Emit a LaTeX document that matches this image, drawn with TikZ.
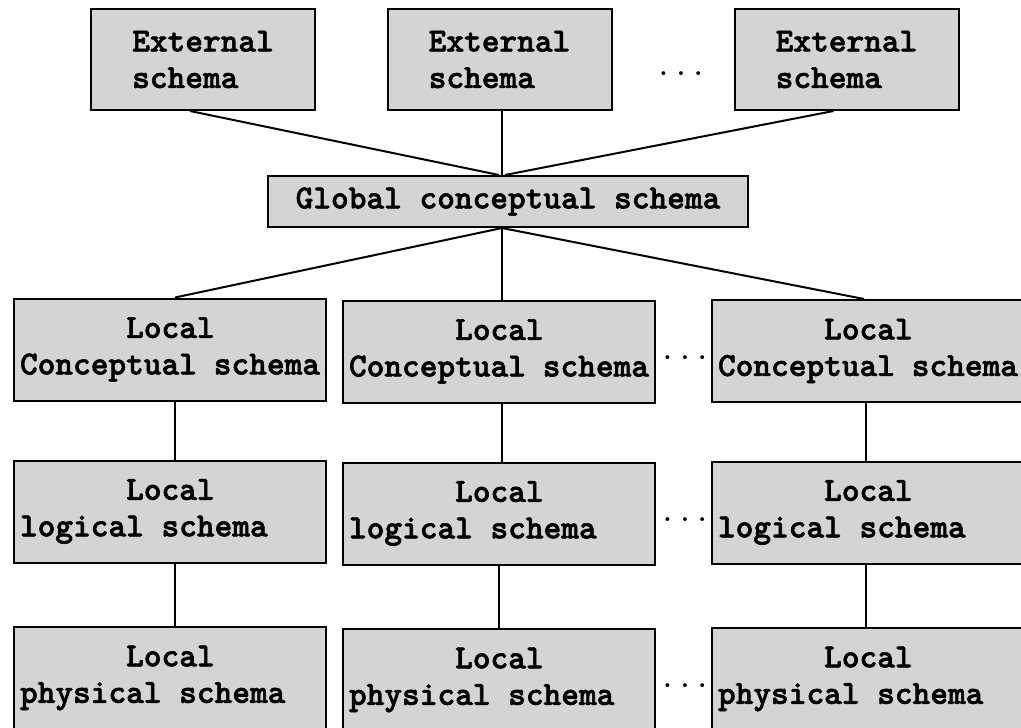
\documentclass[tikz,border=0pt]{standalone}
\usepackage{fontspec}
\newfontfamily\schemafont{lmmonolt10-bold.otf}[FakeBold=1.8]
\usetikzlibrary{calc}
\definecolor{boxgray}{RGB}{212,212,212}
\begin{document}
\begin{tikzpicture}[x=1pt,y=-1pt,
  schema/.style={draw=black, line width=2pt, fill=boxgray,
    font=\schemafont\fontsize{33.7}{36.5}\selectfont,
    inner sep=0pt, align=flush left},
  extbox/.style={schema, minimum width=224pt, minimum height=101pt},
  globbox/.style={schema, align=center, minimum width=480pt, minimum height=51pt},
  localbox/.style={schema, text width=300pt, inner xsep=6pt,
    minimum width=312pt, minimum height=102pt},
  link/.style={line width=2pt},
  more/.style={font=\ttfamily\fontsize{33.7}{36.5}\selectfont, inner sep=0pt}]
\useasboundingbox (0,0) rectangle (1021,728);
\clip (0,0) rectangle (1021,728);

% external schemas
\node[extbox] (e1) at (203,59.5) {External\\schema};
\node[extbox] (e2) at (499.5,59.5) {External\\schema};
\node[extbox] (e3) at (846.5,59.5) {External\\schema};
\node[more] (d0) at (681,74) {...};

% global conceptual schema
\node[globbox] (g) at (508,201.5) {Global conceptual schema};

% local schemas, one column per site
\node[localbox] (c1) at (170,349.5) {\phantom{xxxxxx}Local\\Conceptual schema};
\node[localbox] (c2) at (499,351.5) {\phantom{xxxxxx}Local\\Conceptual schema};
\node[localbox] (c3) at (868,351) {\phantom{xxxxxx}Local\\Conceptual schema};

\node[localbox] (l1) at (170,511.5) {\phantom{xxxxxx}Local\\logical schema};
\node[localbox] (l2) at (499,513.5) {\phantom{xxxxxx}Local\\logical schema};
\node[localbox] (l3) at (868,512.5) {\phantom{xxxxxx}Local\\logical schema};

\node[localbox] (p1) at (170,678) {\phantom{xxxxxx}Local\\physical schema};
\node[localbox] (p2) at (499,680) {\phantom{xxxxxx}Local\\physical schema};
\node[localbox] (p3) at (868,679) {\phantom{xxxxxx}Local\\physical schema};

\node[more] (d1) at (685,358) {...};
\node[more] (d2) at (685,520) {...};
\node[more] (d3) at (685,686) {...};

% connectors
\coordinate (gtop) at ([xshift=-6pt]g.north);
\coordinate (gbot) at ([xshift=-6pt]g.south);
\draw[link] ([xshift=-13pt]e1.south) -- ([xshift=-9pt]g.north);
\draw[link] ([xshift=2.5pt]e2.south) -- (gtop);
\draw[link] ([xshift=-13pt]e3.south) -- ([xshift=-3pt]g.north);

\draw[link] (gbot) -- ([xshift=5pt]c1.north);
\draw[link] (gbot) -- ([xshift=3pt]c2.north);
\draw[link] (gbot) -- ([xshift=-4pt]c3.north);

\draw[link] ([xshift=5pt]c1.south) -- ([xshift=5pt]l1.north);
\draw[link] ([xshift=3pt]c2.south) -- ([xshift=3pt]l2.north);
\draw[link] ([xshift=-2pt]c3.south) -- ([xshift=-2pt]l3.north);

\draw[link] ([xshift=5pt]l1.south) -- ([xshift=5pt]p1.north);
\draw[link] ([xshift=0pt]l2.south) -- ([xshift=0pt]p2.north);
\draw[link] ([xshift=-2pt]l3.south) -- ([xshift=-2pt]p3.north);
\end{tikzpicture}
\end{document}
